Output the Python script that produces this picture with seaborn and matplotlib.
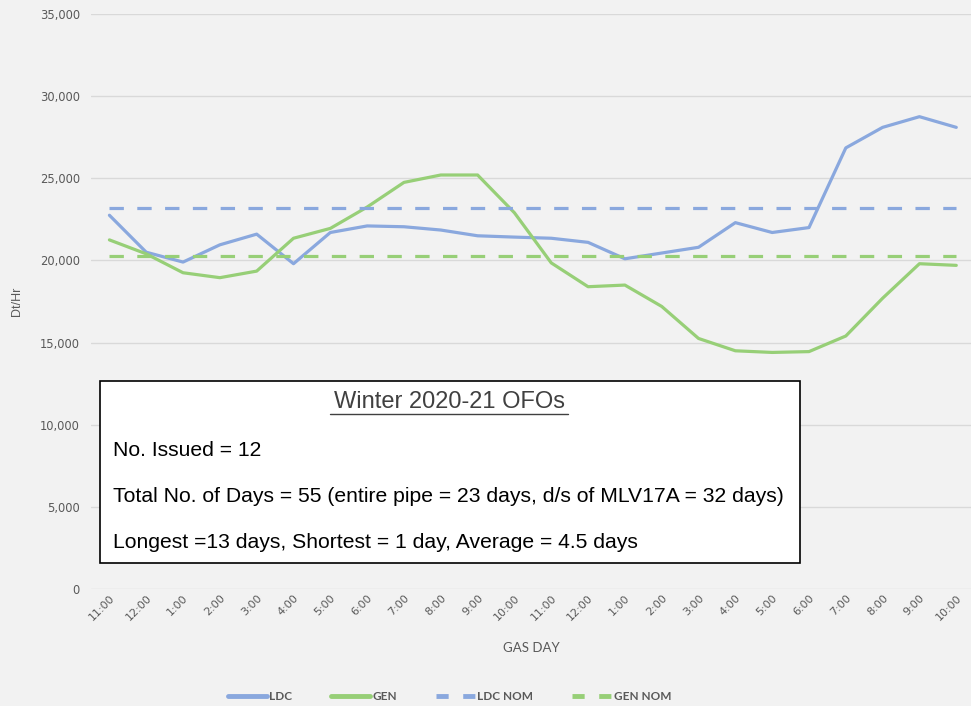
import matplotlib
matplotlib.use("Agg")
import matplotlib.pyplot as plt
import seaborn as sns
import pandas as pd
from matplotlib.lines import Line2D

hours = ["11:00", "12:00", "1:00", "2:00", "3:00", "4:00", "5:00", "6:00", "7:00", "8:00",
         "9:00", "10:00", "11:00", "12:00", "1:00", "2:00", "3:00", "4:00", "5:00", "6:00",
         "7:00", "8:00", "9:00", "10:00"]
ldc = [22750, 20500, 19900, 20950, 21600, 19800, 21700, 22100, 22050, 21850,
       21500, 21420, 21350, 21100, 20100, 20450, 20800, 22300, 21700, 22000,
       26850, 28100, 28750, 28100]
gen = [21250, 20400, 19250, 18950, 19350, 21350, 21950, 23250, 24750, 25200,
       25200, 22900, 19850, 18400, 18500, 17200, 15250, 14500, 14400, 14450,
       15400, 17700, 19800, 19700]
ldc_nom = 23200
gen_nom = 20300

LDC_C = "#8AA8DE"
GEN_C = "#97CF77"

sns.set_theme(style="whitegrid")
plt.rcParams["font.family"] = ["Liberation Sans", "DejaVu Sans"]

idx = list(range(len(hours)))
df = pd.DataFrame({
    "x": idx * 4,
    "value": ldc + gen + [ldc_nom] * len(hours) + [gen_nom] * len(hours),
    "series": ["LDC"] * 24 + ["GEN"] * 24 + ["LDC NOM"] * 24 + ["GEN NOM"] * 24,
})

fig = plt.figure(figsize=(9.71, 7.06), dpi=100, facecolor="#F2F2F2")
ax = fig.add_axes([91 / 971, 117 / 706, 880 / 971, 575 / 706])
ax.set_facecolor("#F2F2F2")

palette = {"LDC": LDC_C, "GEN": GEN_C, "LDC NOM": LDC_C, "GEN NOM": GEN_C}
dashes = {"LDC": "", "GEN": "", "LDC NOM": (4.5, 4.2), "GEN NOM": (4.5, 4.2)}
sns.lineplot(data=df, x="x", y="value", hue="series", style="series",
             palette=palette, dashes=dashes, linewidth=2.3, ax=ax, legend=False)

ax.set_xlim(-0.5, 23.4)
ax.set_ylim(0, 35000)
ax.set_yticks(range(0, 35001, 5000))
ax.set_yticklabels([f"{v:,}" for v in range(0, 35001, 5000)], fontsize=8.3,
                   color="#595959", family=["DejaVu Sans"])
ax.set_xticks(idx)
ax.set_xticklabels(hours, rotation=45, fontsize=8, color="#595959", ha="right",
                   rotation_mode="anchor", family=["DejaVu Sans"])
ax.tick_params(axis="x", pad=3, length=0)
ax.tick_params(axis="y", pad=8, length=0)
ax.grid(axis="y", color="#D9D9D9", linewidth=1)
ax.grid(axis="x", visible=False)
for s in ax.spines.values():
    s.set_visible(False)

ax.set_xlabel("GAS DAY", fontsize=9.5, color="#595959", family=["Lato", "DejaVu Sans"], labelpad=14)
ax.set_ylabel("Dt/Hr", fontsize=9, color="#595959", labelpad=12)

# annotation box
box = plt.Rectangle((100 / 971, (706 - 563) / 706), 700 / 971, 182 / 706,
                    transform=fig.transFigure, facecolor="white", edgecolor="black",
                    linewidth=1.2, zorder=5)
fig.patches.append(box)
fig.text(449 / 971, 1 - 402 / 706, "Winter 2020-21 OFOs", ha="center", va="center",
         fontsize=17, color="#404040", zorder=6)
fig.add_artist(Line2D([330 / 971, 568 / 971], [1 - 414 / 706, 1 - 414 / 706],
                      color="#404040", linewidth=1, zorder=6))
lines_txt = ["No. Issued = 12",
             "Total No. of Days = 55 (entire pipe = 23 days, d/s of MLV17A = 32 days)",
             "Longest =13 days, Shortest = 1 day, Average = 4.5 days"]
for t, yy in zip(lines_txt, [451, 496, 542]):
    fig.text(113 / 971, 1 - yy / 706, t, ha="left", va="center", fontsize=15.2,
             color="#000000", zorder=6)

handles = [Line2D([], [], color=LDC_C, lw=3.5),
           Line2D([], [], color=GEN_C, lw=3.5),
           Line2D([], [], color=LDC_C, lw=3.5, dashes=(2.5, 3)),
           Line2D([], [], color=GEN_C, lw=3.5, dashes=(2.5, 3))]
fig.legend(handles, ["LDC", "GEN", "LDC NOM", "GEN NOM"], loc="center",
           bbox_to_anchor=(0.463, 9 / 706), ncol=4, frameon=False,
           handlelength=3.3, columnspacing=3.3, handletextpad=0.2,
           prop={"family": ["Lato", "DejaVu Sans"], "size": 8.5, "weight": "bold"},
           labelcolor="#595959")

fig.savefig("out.png", dpi=100, facecolor=fig.get_facecolor())
